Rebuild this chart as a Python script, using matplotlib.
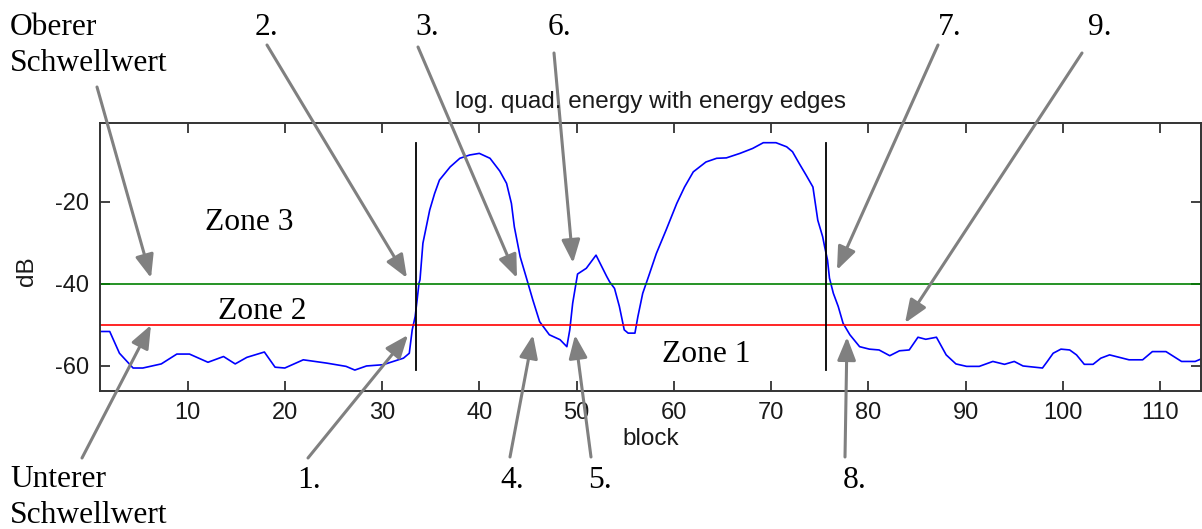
import matplotlib
matplotlib.use('Agg')
import matplotlib.pyplot as plt

plt.rcParams['axes.unicode_minus'] = False

# log. quad. energy curve (block, dB)
block = [1.0, 2.0, 3.0, 4.4, 5.4, 7.3, 8.9, 10.2, 12.1, 13.7, 14.9, 16.1, 17.9, 19.0,
         20.0, 21.9, 24.3, 26.3, 27.2, 28.4, 30.1, 32.2, 32.8, 33.1, 33.4, 33.6, 33.8,
         33.9, 34.2, 34.9, 35.4, 35.9, 37.0, 38.0, 39.0, 40.0, 41.1, 42.1, 42.8, 43.3,
         43.6, 44.2, 44.8, 45.5, 46.2, 47.2, 48.3, 49.0, 49.3, 49.6, 50.1, 51.0, 52.0,
         53.1, 53.4, 53.9, 54.4, 54.9, 55.3, 56.0, 56.3, 56.8, 57.4, 58.2, 59.2, 60.3,
         61.1, 62.0, 63.3, 64.4, 65.4, 66.8, 68.1, 69.2, 70.5, 71.6, 72.2, 72.9, 73.6,
         74.3, 74.8, 75.3, 75.5, 75.8, 76.0, 76.4, 76.9, 77.4, 78.1, 79.1, 80.1, 81.1,
         82.2, 83.2, 84.2, 85.1, 85.9, 87.0, 88.0, 89.0, 90.1, 91.4, 92.8, 94.0, 95.0,
         95.9, 97.9, 98.4, 99.0, 99.8, 100.7, 101.4, 102.2, 103.1, 103.9, 104.8, 105.8,
         106.8, 108.2, 109.2, 110.6, 112.2, 113.6, 114.2]
energy_db = [-51.6, -51.6, -56.9, -60.5, -60.5, -59.5, -57.1, -57.1, -59.1, -57.7, -59.5,
             -57.9, -56.6, -60.3, -60.5, -58.5, -59.3, -60.1, -61.0, -60.0, -59.7, -58.1,
             -56.9, -51.2, -48.0, -44.0, -39.8, -39.0, -30.1, -22.0, -18.0, -14.7, -11.5,
             -9.4, -8.6, -8.2, -9.4, -12.5, -15.5, -20.4, -26.1, -33.4, -38.2, -43.9,
             -49.2, -52.4, -53.6, -55.3, -51.2, -44.7, -37.6, -36.2, -33.0, -38.2, -39.5,
             -41.1, -45.5, -51.2, -52.0, -52.0, -48.0, -42.3, -38.2, -32.6, -26.9, -20.4,
             -16.4, -12.7, -10.3, -9.4, -9.3, -8.2, -7.0, -5.6, -5.6, -6.6, -7.8, -10.7,
             -13.5, -16.4, -24.5, -28.5, -30.9, -34.2, -38.6, -42.3, -45.5, -49.6, -52.4,
             -55.3, -55.9, -56.1, -57.5, -56.3, -56.1, -53.0, -53.5, -53.0, -57.3, -59.5,
             -60.1, -60.1, -58.9, -59.6, -58.9, -60.0, -60.5, -58.9, -56.9, -55.9, -56.1,
             -57.3, -59.6, -59.6, -58.1, -57.3, -57.9, -58.5, -58.5, -56.5, -56.5, -58.9,
             -58.9, -58.3]

upper_threshold = -40
lower_threshold = -50
edge_blocks = [33.5, 75.6]
edge_top = -5.7
edge_bottom = -61

x_ticks = [10, 20, 30, 40, 50, 60, 70, 80, 90, 100, 110]
y_ticks = [-60, -40, -20]

# annotation labels: text, text position, arrow start, arrow tip (image pixels)
labels = ['Oberer\nSchwellwert', 'Unterer\nSchwellwert', '1.', '2.', '3.', '4.', '5.',
          '6.', '7.', '8.', '9.']
label_xy = [(10, 35), (10, 487), (297, 488), (255, 35), (415, 35), (500, 488),
            (588, 488), (548, 35), (938, 35), (843, 488), (1088, 35)]
arrow_from = [(97, 87), (82, 458), (308, 458), (267, 45), (418, 47), (510, 457),
              (591, 457), (554, 53), (938, 45), (845, 457), (1082, 53)]
arrow_to = [(151, 278), (151, 325), (408, 335), (407, 278), (517, 278), (533, 335),
            (575, 335), (573, 263), (837, 270), (847, 337), (905, 323)]

zones = ['Zone 3', 'Zone 2', 'Zone 1']
zone_xy = [(205, 230), (218, 319), (662, 362)]

W, H = 1202, 529
SERIF = 'Liberation Serif'
SANS = 'Liberation Sans'
BIG = 22.7

fig = plt.figure(figsize=(W / 100, H / 100), dpi=100)
ax = fig.add_axes([100 / W, 1 - 391 / H, 1101 / W, 268 / H])

ax.plot(block, energy_db, color='#0000ff', lw=1.2)
ax.axhline(upper_threshold, color='#008000', lw=1.2)
ax.axhline(lower_threshold, color='#ff0000', lw=1.2)
for eb in edge_blocks:
    ax.plot([eb, eb], [edge_top, edge_bottom], color='black', lw=1.3)

ax.set_xlim(1, 114.2)
ax.set_ylim(-66.1, -0.8)
ax.set_xticks(x_ticks)
ax.set_yticks(y_ticks)
ax.tick_params(direction='in', length=7, width=1.3, top=True, right=True,
               labelsize=17, labelcolor='#1a1a1a', colors='#333333')
ax.tick_params(axis='x', pad=8)
ax.tick_params(axis='y', pad=8)
for lab in ax.get_xticklabels() + ax.get_yticklabels():
    lab.set_fontfamily(SANS)
for s in ax.spines.values():
    s.set_linewidth(1.4)
    s.set_color('#333333')

ax.set_title('log. quad. energy with energy edges', fontsize=17.5, family=SANS,
             color='#1a1a1a', pad=11)
ax.set_xlabel('block', fontsize=17.5, family=SANS, color='#1a1a1a', labelpad=3)
fig.text(27 / W, 1 - 271 / H, 'dB', rotation=90, fontsize=17.5, family=SANS,
         color='#1a1a1a', ha='center', va='center')

for z, (zx, zy) in zip(zones, zone_xy):
    fig.text(zx / W, 1 - zy / H, z, fontsize=BIG, family=SERIF, ha='left',
             va='baseline')

for t, (tx, ty) in zip(labels, label_xy):
    if '\n' in t:
        first, second = t.split('\n')
        fig.text(tx / W, 1 - ty / H, first, fontsize=BIG, family=SERIF, va='baseline')
        fig.text(tx / W, 1 - (ty + 36) / H, second, fontsize=BIG, family=SERIF,
                 va='baseline')
    else:
        fig.text(tx / W, 1 - ty / H, t, fontsize=BIG, family=SERIF, va='baseline')

for (x0, y0), (x1, y1) in zip(arrow_from, arrow_to):
    ax.annotate('', xy=(x1, H - y1), xycoords='figure pixels',
                xytext=(x0, H - y0), textcoords='figure pixels',
                arrowprops=dict(arrowstyle='-|>,head_length=0.7,head_width=0.28',
                                color='#808080', lw=2.2, mutation_scale=20,
                                shrinkA=0, shrinkB=0),
                annotation_clip=False)

fig.savefig('out.png', dpi=100)
